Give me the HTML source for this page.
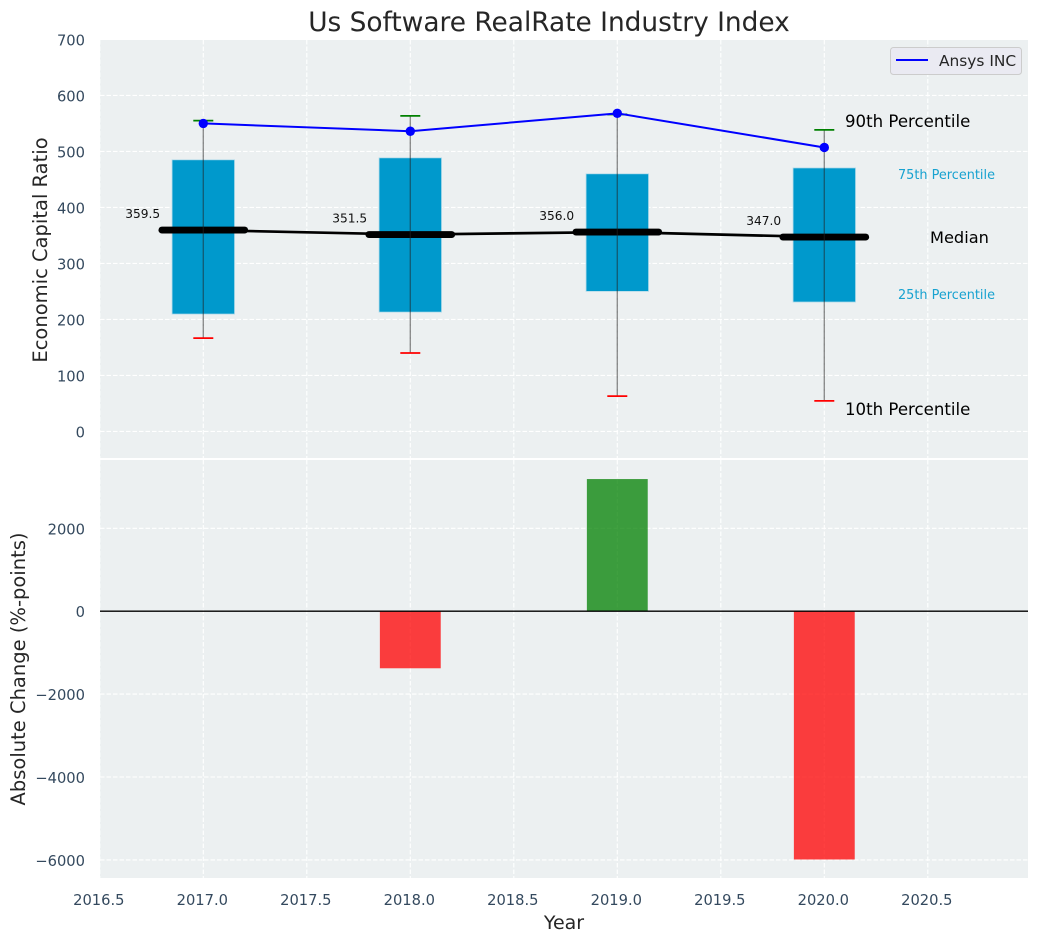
<!DOCTYPE html>
<html>
<head>
<meta charset="utf-8">
<style>
html,body{margin:0;padding:0;background:#fff;width:1039px;height:942px;overflow:hidden}
svg{display:block}
text{font-family:"DejaVu Sans","Liberation Sans",sans-serif}
</style>
</head>
<body>
<svg id="chart" width="1039" height="942" viewBox="0 0 1039 942" xmlns="http://www.w3.org/2000/svg"></svg>
<script>
const years = [2017, 2018, 2019, 2020];
const p10 = [166.5, 140, 63, 54.5];
const p25 = [209.5, 213, 250, 231];
const medians = [359.5, 351.5, 356.0, 347.0];
const p75 = [485, 488.5, 460, 470.5];
const p90 = [555, 563.5, 566, 538.5];
const companyValues = [550, 536, 568, 507];
const changeValues = [0, -1377, 3188, -5990];
const xTicks = [2016.5, 2017, 2017.5, 2018, 2018.5, 2019, 2019.5, 2020, 2020.5];
const topYTicks = [0, 100, 200, 300, 400, 500, 600, 700];
const bottomYTicks = [-6000, -4000, -2000, 0, 2000];

const svg = document.getElementById('chart');
const NS = 'http://www.w3.org/2000/svg';
const L = 100, R = 1028, T1 = 40, B1 = 458, T2 = 460, B2 = 878;
function X(v){ return 99.8 + (v - 2016.5) * 207; }
function Y1(v){ return 431.4 - v * 0.56; }
function Y2(v){ return 611.2 - v * 0.04145; }
function make(tag, attrs, text){
  const el = document.createElementNS(NS, tag);
  for (const k in attrs) el.setAttribute(k, attrs[k]);
  if (text !== undefined) el.textContent = text;
  svg.appendChild(el);
  return el;
}
function fmt(v){ return String(v).replace('-', '\u2212'); }

/* panels */
let el = make('rect', {x:L, y:T1, width:R-L, height:B1-T1, fill:'#ecf0f1'});


el = make('rect', {x:L, y:T2, width:R-L, height:B2-T2, fill:'#ecf0f1'});



/* grid */
const gridStyle = {stroke:'#ffffff', 'stroke-width':1.1, 'stroke-dasharray':'4.5 2', fill:'none'};
xTicks.forEach(function(t){
  let g = make('line', Object.assign({x1:X(t), x2:X(t), y1:T1, y2:B1}, gridStyle));
  
  
  g = make('line', Object.assign({x1:X(t), x2:X(t), y1:T2, y2:B2}, gridStyle));
  
  
  const lab = make('text', {x:X(t)-1, y:905, 'text-anchor':'middle', 'font-size':14.7, fill:'#34495e'}, t.toFixed(1));
  
  
});
topYTicks.forEach(function(t){
  const g = make('line', Object.assign({x1:L, x2:R, y1:Y1(t), y2:Y1(t)}, gridStyle));
  
  
  const lab = make('text', {x:85, y:Y1(t)+6, 'text-anchor':'end', 'font-size':14.7, fill:'#34495e'}, fmt(t));
  
  
});
bottomYTicks.forEach(function(t){
  const g = make('line', Object.assign({x1:L, x2:R, y1:Y2(t), y2:Y2(t)}, gridStyle));
  
  
  const lab = make('text', {x:85, y:Y2(t)+6, 'text-anchor':'end', 'font-size':14.7, fill:'#34495e'}, fmt(t));
  
  
});

/* boxes */
years.forEach(function(yr, i){
  const b = make('rect', {x:X(yr-0.151), y:Y1(p75[i]), width:X(yr+0.151)-X(yr-0.151), height:Y1(p25[i])-Y1(p75[i]), fill:'#0099cc', stroke:'#b5dcea', 'stroke-width':0.8});
  
  
});
/* median connector */
let medianPts = years.map(function(yr, i){ return X(yr) + ',' + Y1(medians[i]); }).join(' ');
el = make('polyline', {points:medianPts, fill:'none', stroke:'#000', 'stroke-width':2.7});


years.forEach(function(yr, i){
  const m = make('line', {x1:X(yr-0.2), x2:X(yr+0.2), y1:Y1(medians[i]), y2:Y1(medians[i]), stroke:'#000', 'stroke-width':6.9, 'stroke-linecap':'round'});
  
  
  const w = make('line', {x1:X(yr), x2:X(yr), y1:Y1(p10[i]), y2:Y1(p90[i]), stroke:'#222', 'stroke-opacity':0.5, 'stroke-width':1.4});
  
  
  const hi = make('line', {x1:X(yr)-10, x2:X(yr)+10, y1:Y1(p90[i]), y2:Y1(p90[i]), stroke:'#008000', 'stroke-width':1.8});
  
  
  const lo = make('line', {x1:X(yr)-10, x2:X(yr)+10, y1:Y1(p10[i]), y2:Y1(p10[i]), stroke:'#ff0000', 'stroke-width':1.8});
  
  
  const t = make('text', {x:X(yr)-78, y:Y1(medians[i])-12, 'font-size':12.2, fill:'#111'}, medians[i].toFixed(1));
  
  
});
/* company series */
let companyPts = years.map(function(yr, i){ return X(yr) + ',' + Y1(companyValues[i]); }).join(' ');
el = make('polyline', {points:companyPts, fill:'none', stroke:'#0000ff', 'stroke-width':2});


years.forEach(function(yr, i){
  const d = make('circle', {cx:X(yr), cy:Y1(companyValues[i]), r:4.7, fill:'#0000ff'});
  
  
});

/* annotations */
el = make('text', {x:845, y:127, 'font-size':16.6, fill:'#000'}, '90th Percentile');


el = make('text', {x:845, y:415, 'font-size':16.6, fill:'#000'}, '10th Percentile');


el = make('text', {x:930, y:243, 'font-size':16.2, fill:'#000'}, 'Median');


el = make('text', {x:898, y:179, 'font-size':12.85, fill:'#0099cc', 'fill-opacity':0.9}, '75th Percentile');


el = make('text', {x:898, y:299, 'font-size':12.85, fill:'#0099cc', 'fill-opacity':0.9}, '25th Percentile');



/* legend */
el = make('rect', {x:890.5, y:47.5, width:131, height:27, rx:3, fill:'#eaeaf2', stroke:'#cccccc', 'stroke-width':1});


el = make('line', {x1:896, x2:928, y1:60, y2:60, stroke:'#0000ff', 'stroke-width':2});


el = make('text', {x:939, y:66, 'font-size':15.4, fill:'#262626'}, 'Ansys INC');



/* change bars */
years.forEach(function(yr, i){
  const v = changeValues[i];
  if (v === 0) return;
  const top = Math.min(Y2(v), Y2(0)), h = Math.abs(Y2(v) - Y2(0));
  const bar = make('rect', {x:X(yr-0.147), y:top, width:X(yr+0.147)-X(yr-0.147), height:h, fill:v > 0 ? '#008000' : '#ff0000', 'fill-opacity':0.75});
  
  
});
el = make('line', {x1:L, x2:R, y1:Y2(0), y2:Y2(0), stroke:'#000', 'stroke-width':1.3});



/* titles */
el = make('text', {x:549, y:31, 'text-anchor':'middle', 'font-size':26.4, fill:'#262626'}, 'Us Software RealRate Industry Index');


el = make('text', {x:564, y:929, 'text-anchor':'middle', 'font-size':19, fill:'#262626'}, 'Year');


el = make('text', {transform:'translate(47,250) rotate(-90)', 'text-anchor':'middle', 'font-size':19.5, fill:'#262626'}, 'Economic Capital Ratio');


el = make('text', {transform:'translate(25,669) rotate(-90)', 'text-anchor':'middle', 'font-size':19.5, fill:'#262626'}, 'Absolute Change (%-points)');


</script>
</body>
</html>
